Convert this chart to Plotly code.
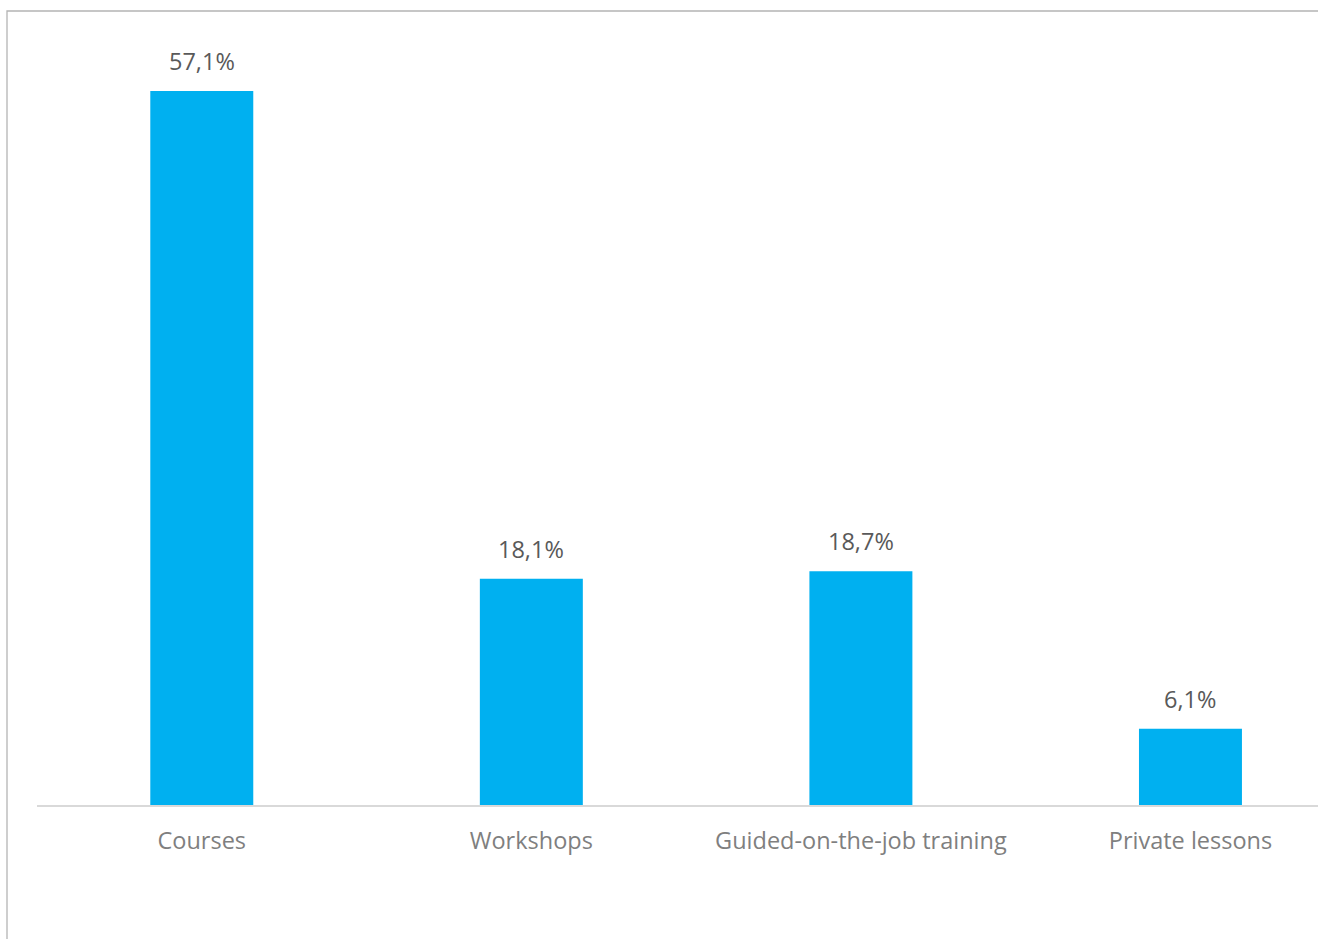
import plotly.graph_objects as go

categories = ["Courses", "Workshops", "Guided-on-the-job training", "Private lessons"]
shares = [57.1, 18.1, 18.7, 6.1]

W, H = 1318, 939
ml, mr, mt, mb = 37, 0, 25, 134
plot_w = W - ml - mr
plot_h = H - mt - mb
y_top = 62.38

fig = go.Figure()
fig.add_trace(go.Bar(
    x=list(range(len(categories))),
    y=shares,
    width=0.3125,
    marker=dict(color="#00B0F0", line=dict(width=0)),
    hoverinfo="skip",
))

# value labels above each bar, formatted with a decimal comma
for i, v in enumerate(shares):
    fig.add_annotation(
        x=i, y=v, xref="x", yref="y",
        text=f"{v:.1f}%".replace(".", ","),
        showarrow=False, yanchor="bottom", yshift=12,
        font=dict(family="Open Sans", size=23.5, color="#595959"),
    )

# outer chart frame
fig.add_shape(
    type="rect", xref="paper", yref="paper",
    x0=(7 - ml) / plot_w, x1=1.2,
    y0=-0.5, y1=(plot_h + mt - 11) / plot_h,
    line=dict(color="#b4b4b4", width=1.3), fillcolor="rgba(0,0,0,0)",
    layer="above",
)

fig.update_layout(
    width=W, height=H,
    margin=dict(l=ml, r=mr, t=mt, b=mb),
    paper_bgcolor="white", plot_bgcolor="white",
    showlegend=False,
    xaxis=dict(
        range=[-0.5, 3.387],
        tickmode="array", tickvals=list(range(len(categories))), ticktext=categories,
        showline=True, linecolor="#d9d9d9", linewidth=1.5,
        showgrid=False, zeroline=False, ticks="",
        tickfont=dict(family="Open Sans", size=23.5, color="#7f7f7f"),
        ticklabelstandoff=14,
    ),
    yaxis=dict(range=[0, y_top], visible=False, showgrid=False, zeroline=False),
)

fig.write_html("out.html")
